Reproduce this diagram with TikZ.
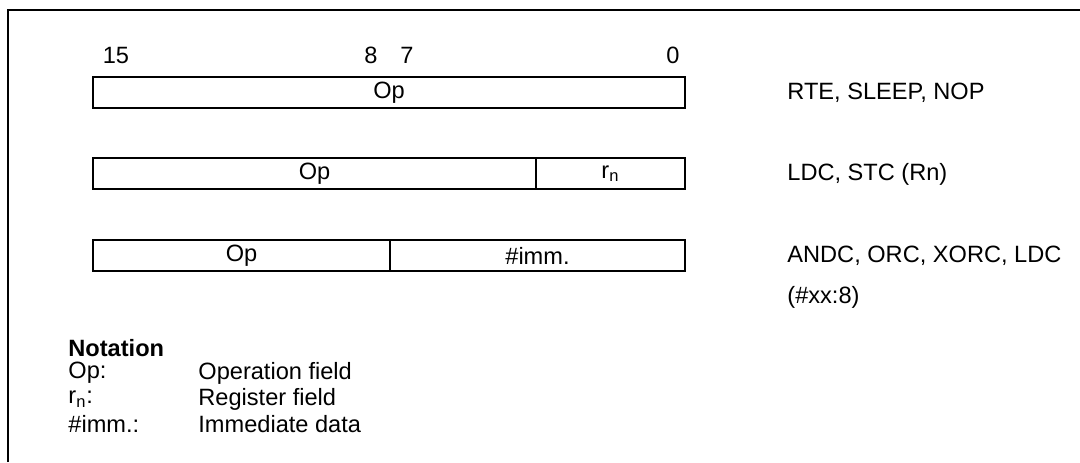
\documentclass[tikz,border=0pt]{standalone}
\usepackage{fontspec}
\setmainfont{Liberation Sans}
\usetikzlibrary{positioning}

\begin{document}
\begin{tikzpicture}
[x=0.5pt,y=-0.5pt,
every node/.style={font=\fontsize{11.8}{14}\selectfont,inner sep=0pt},
field/.style={draw,line width=1pt,outer sep=0pt,minimum height=15.5pt,anchor=west},
bit/.style={anchor=center},
fmt/.style={anchor=west},
note/.style={anchor=west}]
\useasboundingbox (0,0) rectangle (1080,462);
% frame
\draw[line width=1.3pt] (8,462) -- (8,10) -- (1080,10);
% bit numbers
\node (B15)[bit] at (116,55) {15};
\node (B8)[bit] at (371,55) {8};
\node (B7)[bit] at (407,55) {7};
\node (B0)[bit] at (673,55) {0};
% formats
\node (OpA)[field,minimum width=296pt] at (93,92.5) {Op};
\node (OpB)[field,minimum width=221.5pt] at (93,173.5) {Op};
\node (RnB)[field,minimum width=74.5pt,right=0pt of OpB] {r\textsubscript{n}};
\node (OpC)[field,minimum width=148.5pt] at (93,255.5) {Op};
\node (ImmC)[field,minimum width=147.5pt,right=0pt of OpC] {\#imm.};
% instructions
\node (InsA)[fmt] at (787,92.5) {RTE, SLEEP, NOP};
\node (InsB)[fmt] at (787,174) {LDC, STC (Rn)};
\node (InsC)[fmt] at (787,256) {ANDC, ORC, XORC, LDC};
\node (InsD)[fmt] at (787,297) {(\#xx:8)};
% notation
\node (NotT)[note,font=\fontsize{11.8}{14}\selectfont\bfseries] at (68,348) {Notation};
\node (NotOp)[note] at (68,373) {Op:};
\node (NotRn)[note] at (68,399) {r\textsubscript{n}:};
\node (NotImm)[note] at (68,424) {\#imm.:};
\node (DesOp)[note] at (198,373) {Operation field};
\node (DesRn)[note] at (198,399) {Register field};
\node (DesImm)[note] at (198,424) {Immediate data};
\end{tikzpicture}
\end{document}
